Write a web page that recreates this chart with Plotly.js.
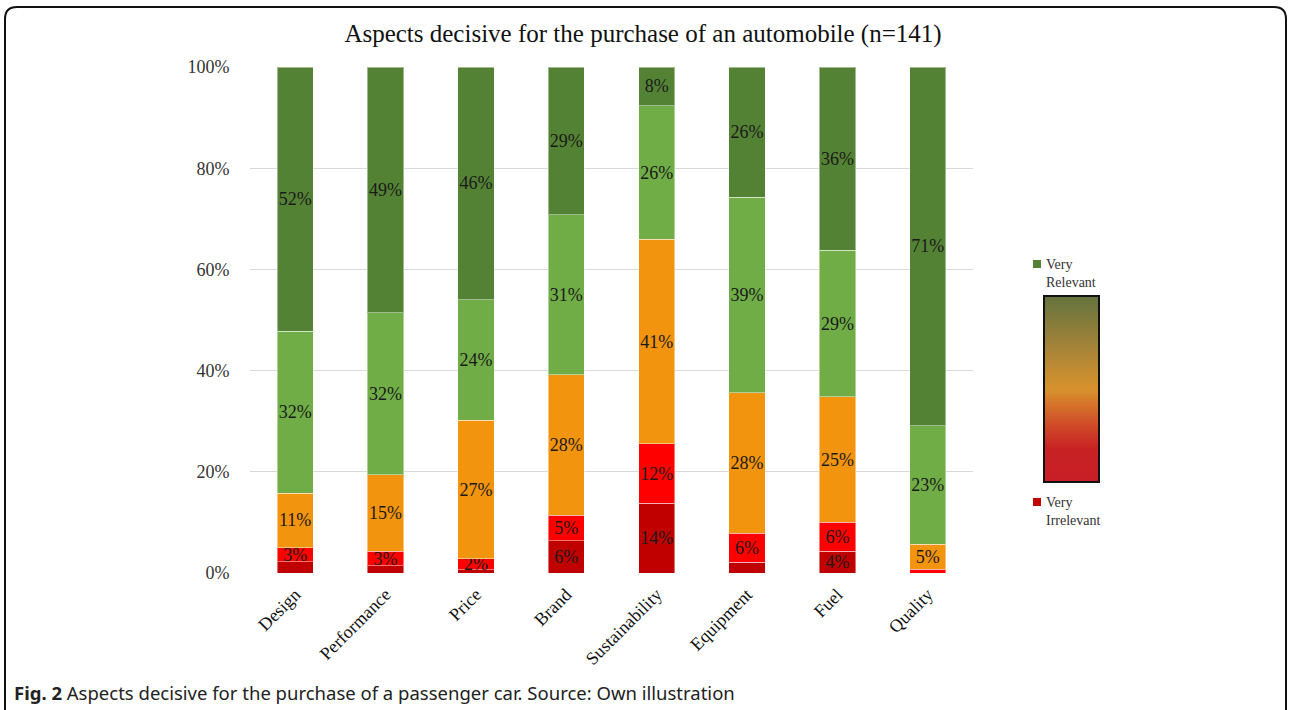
<!DOCTYPE html>
<html>
<head>
<meta charset="utf-8">
<script src="https://cdn.plot.ly/plotly-3.0.1.min.js"></script>
<style>
  html, body { margin: 0; padding: 0; background: #fff; }
  #chart { width: 1290px; height: 710px; }
</style>
</head>
<body>
<div id="chart"></div>
<script>
// ---- data ----
const categories = ["Design", "Performance", "Price", "Brand", "Sustainability", "Equipment", "Fuel", "Quality"];

// shares in percent, from bottom (very irrelevant) to top (very relevant)
const veryIrrelevant = [2.2, 1.4, 0.6, 6.4, 13.8, 2.1, 4.3, 0.0];
const irrelevant     = [2.8, 2.9, 2.2, 5.0, 11.7, 5.8, 5.7, 0.7];
const neutral        = [10.8, 15.1, 27.4, 27.8, 40.5, 27.7, 24.8, 5.0];
const relevant       = [32.0, 32.0, 23.8, 31.6, 26.3, 38.7, 29.0, 23.4];
const veryRelevant   = [52.2, 48.6, 46.0, 29.2, 7.7, 25.7, 36.2, 70.9];

// data labels as printed in the chart
const lblVeryIrrelevant = ["", "", "", "6%", "14%", "", "4%", ""];
const lblIrrelevant     = ["3%", "3%", "2%", "5%", "12%", "6%", "6%", ""];
const lblNeutral        = ["11%", "15%", "27%", "28%", "41%", "28%", "25%", "5%"];
const lblRelevant       = ["32%", "32%", "24%", "31%", "26%", "39%", "29%", "23%"];
const lblVeryRelevant   = ["52%", "49%", "46%", "29%", "8%", "26%", "36%", "71%"];

const yTickVals = [0, 20, 40, 60, 80, 100];

const titleText = "Aspects decisive for the purchase of an automobile (n=141)";
const captionText = "<b>Fig. 2</b> Aspects decisive for the purchase of a passenger car. Source: Own illustration";

// ---- styling ----
const serif = "Liberation Serif, Times New Roman, serif";
const colors = ["#C00000", "#FF0000", "#F2940D", "#70AD47", "#548235"];

function barTrace(name, y, labels, color) {
  return {
    type: "bar",
    name: name,
    x: categories,
    y: y,
    text: labels,
    textposition: "inside",
    insidetextanchor: "middle",
    constraintext: "none",
    textangle: 0,
    textfont: { family: serif, size: 18, color: "#1a1a1a" },
    marker: { color: color, line: { color: "rgba(255,255,255,0.45)", width: 1 } },
    showlegend: false,
    hoverinfo: "x+y+name",
    cliponaxis: false
  };
}

const traces = [
  barTrace("Very Irrelevant", veryIrrelevant, lblVeryIrrelevant, colors[0]),
  barTrace("Irrelevant", irrelevant, lblIrrelevant, colors[1]),
  barTrace("Neutral", neutral, lblNeutral, colors[2]),
  barTrace("Relevant", relevant, lblRelevant, colors[3]),
  barTrace("Very Relevant", veryRelevant, lblVeryRelevant, colors[4]),
  // dummy trace carrying the gradient colour bar
  {
    type: "scatter",
    mode: "markers",
    x: [null],
    y: [null],
    showlegend: false,
    hoverinfo: "skip",
    marker: {
      color: [0],
      cmin: 0,
      cmax: 1,
      colorscale: [
        [0.0, "rgb(200,30,38)"],
        [0.18, "rgb(200,34,36)"],
        [0.32, "rgb(208,80,40)"],
        [0.5, "rgb(216,146,44)"],
        [0.72, "rgb(165,132,56)"],
        [1.0, "rgb(100,115,62)"]
      ],
      showscale: true,
      colorbar: {
        thicknessmode: "pixels",
        thickness: 55,
        lenmode: "pixels",
        len: 186,
        x: (1044 - 250) / 723,
        xanchor: "left",
        y: (573 - 296) / 506,
        yanchor: "top",
        xpad: 0,
        ypad: 0,
        ticks: "",
        showticklabels: false,
        outlinewidth: 2,
        outlinecolor: "#111",
        borderwidth: 0
      }
    }
  }
];

// paper-coordinate helpers (plot area: x 250..973 px, y 67..573 px)
const px = v => (v - 250) / 723;
const py = v => (573 - v) / 506;

// rounded frame path
const L = px(5), R = px(1286), T = py(7), B = py(720);
const rx = 12 / 723, ry = 12 / 506;
const framePath =
  `M ${L},${B} L ${L},${T - ry} Q ${L},${T} ${L + rx},${T} ` +
  `L ${R - rx},${T} Q ${R},${T} ${R},${T - ry} L ${R},${B}`;

const layout = {
  width: 1290,
  height: 710,
  margin: { l: 250, r: 317, t: 67, b: 137 },
  paper_bgcolor: "#ffffff",
  plot_bgcolor: "#ffffff",
  barmode: "stack",
  bargap: 0.6,
  title: {
    text: titleText,
    font: { family: serif, size: 25, color: "#111" },
    xref: "container",
    x: 643 / 1290,
    xanchor: "center",
    yref: "container",
    y: 1 - 33 / 710,
    yanchor: "middle"
  },
  xaxis: {
    type: "category",
    tickangle: -45,
    tickfont: { family: serif, size: 18, color: "#111" },
    ticks: "outside",
    ticklen: 3,
    tickcolor: "rgba(0,0,0,0)",
    showline: false,
    showgrid: false,
    zeroline: false
  },
  yaxis: {
    range: [0, 100.0001],
    tickvals: yTickVals,
    ticktext: yTickVals.map(v => v + "%"),
    tickfont: { family: serif, size: 18, color: "#333" },
    ticks: "outside",
    ticklen: 16,
    tickcolor: "rgba(0,0,0,0)",
    showgrid: true,
    gridcolor: "#d9d9d9",
    gridwidth: 1,
    zeroline: false,
    showline: false,
    fixedrange: true
  },
  shapes: [
    {
      type: "path", xref: "paper", yref: "paper",
      path: framePath,
      line: { color: "#111", width: 2 }
    },
    // legend swatches
    {
      type: "rect", xref: "paper", yref: "paper",
      x0: px(1033), x1: px(1041), y0: py(268), y1: py(260),
      fillcolor: "#548235", line: { width: 0 }
    },
    {
      type: "rect", xref: "paper", yref: "paper",
      x0: px(1033), x1: px(1041), y0: py(506), y1: py(498),
      fillcolor: "#C00000", line: { width: 0 }
    }
  ],
  annotations: [
    {
      xref: "paper", yref: "paper",
      x: px(1044), y: py(273), xanchor: "left", yanchor: "middle",
      align: "left", showarrow: false,
      text: "Very<br>Relevant",
      font: { family: serif, size: 14, color: "#333" }
    },
    {
      xref: "paper", yref: "paper",
      x: px(1044), y: py(511), xanchor: "left", yanchor: "middle",
      align: "left", showarrow: false,
      text: "Very<br>Irrelevant",
      font: { family: serif, size: 14, color: "#333" }
    },
    {
      xref: "paper", yref: "paper",
      x: px(12), y: py(692), xanchor: "left", yanchor: "middle",
      align: "left", showarrow: false,
      text: captionText,
      font: { family: "Noto Sans, Open Sans, sans-serif", size: 18.5, color: "#222" }
    }
  ]
};

Plotly.newPlot("chart", traces, layout, { displayModeBar: false, staticPlot: true });
</script>
</body>
</html>
